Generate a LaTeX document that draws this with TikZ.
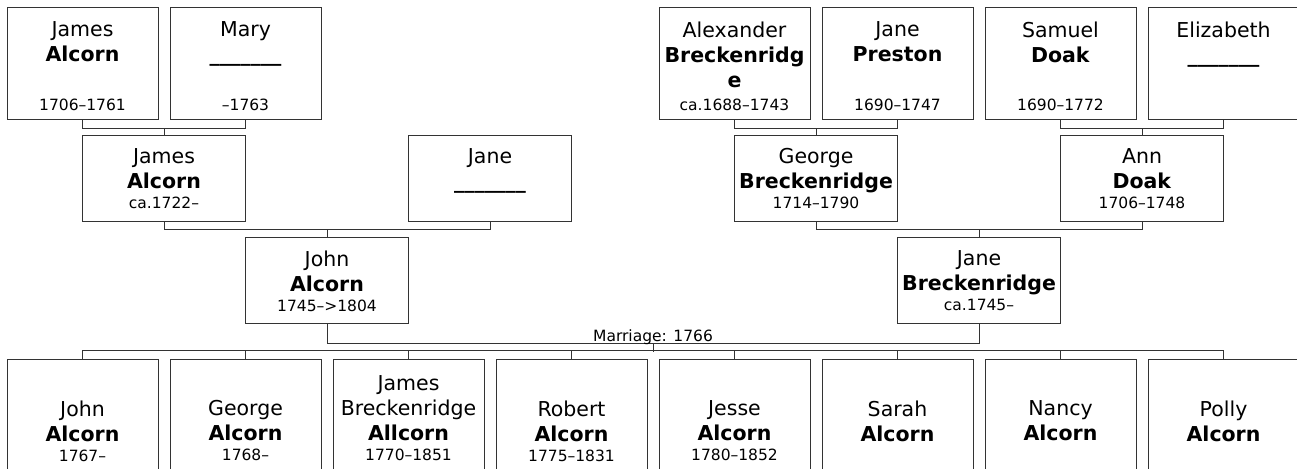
\documentclass[tikz,border=0pt]{standalone}
\usepackage{fontspec}
\setmainfont{DejaVu Sans}
\usetikzlibrary{calc}
\newcommand{\lifespan}[1]{{\fontsize{15.5}{20}\selectfont #1}}
\tikzset{ elder/.style = { rectangle % top row and children
        , draw = black!80
        , line width = 1pt
        , minimum width = 151pt
        , minimum height = 112pt
        , inner sep = 0pt
        }
        , parent/.style = { rectangle % middle rows
        , draw = black!80
        , line width = 1pt
        , minimum width = 163pt
        , minimum height = 86pt
        , inner sep = 0pt
        }
        , nm/.style = { align = center % names
        , anchor = north
        , inner sep = 0pt
        , font = \fontsize{20.5}{25}\selectfont
        }
        , dt/.style = { anchor = base % dates
        , inner sep = 0pt
        , font = \fontsize{15.5}{20}\selectfont
        }
        }

\begin{document}
\begin{tikzpicture}[x=1pt, y=-1pt,
        link/.style={draw=black!80, line width=1pt}]
        \useasboundingbox (0,0) rectangle (1297,468);
        \clip (0,0) rectangle (1297,468);

        \node [elder](jamesA) at (82.5,64) {};
        \node [nm](jamesA-n) at ([yshift=-14pt]jamesA.north) {James\\\textbf{Alcorn}};
        \node [dt](jamesA-d) at ([yshift=10pt]jamesA.south) {1706–1761};
        \node [elder](mary) at (245.5,64) {};
        \node [nm](mary-n) at ([yshift=-14pt]mary.north) {Mary\\\textbf{\_\_\_\_\_\_\_}};
        \node [dt](mary-d) at ([yshift=10pt]mary.south) {–1763};
        \node [elder](alex) at (734.5,64) {};
        \node [nm](alex-n) at ([yshift=-14pt]alex.north) {Alexander\\\textbf{Breckenridg}\\\textbf{e}};
        \node [dt](alex-d) at ([yshift=10pt]alex.south) {ca.1688–1743};
        \node [elder](janeP) at (897.5,64) {};
        \node [nm](janeP-n) at ([yshift=-14pt]janeP.north) {Jane\\\textbf{Preston}};
        \node [dt](janeP-d) at ([yshift=10pt]janeP.south) {1690–1747};
        \node [elder](samuel) at (1060.5,64) {};
        \node [nm](samuel-n) at ([yshift=-14pt]samuel.north) {Samuel\\\textbf{Doak}};
        \node [dt](samuel-d) at ([yshift=10pt]samuel.south) {1690–1772};
        \node [elder](eliz) at (1223.5,64) {};
        \node [nm](eliz-n) at ([yshift=-14pt]eliz.north) {Elizabeth\\\textbf{\_\_\_\_\_\_\_}};

        \node [parent](jamesB) at (164,178) {};
        \node [nm](jamesB-n) at ([yshift=-14pt]jamesB.north) {James\\\textbf{Alcorn}\\[-5pt]\lifespan{ca.1722–}};
        \node [parent](jane) at (490,178) {};
        \node [nm](jane-n) at ([yshift=-14pt]jane.north) {Jane\\\textbf{\_\_\_\_\_\_\_}};
        \node [parent](george) at (816,178) {};
        \node [nm](george-n) at ([yshift=-14pt]george.north) {George\\\textbf{Breckenridge}\\[-5pt]\lifespan{1714–1790}};
        \node [parent](ann) at (1142,178) {};
        \node [nm](ann-n) at ([yshift=-14pt]ann.north) {Ann\\\textbf{Doak}\\[-5pt]\lifespan{1706–1748}};

        \node [parent](john) at (327,280) {};
        \node [nm](john-n) at ([yshift=-14pt]john.north) {John\\\textbf{Alcorn}\\[-5pt]\lifespan{1745–>1804}};
        \node [parent](janeB) at (979,280) {};
        \node [nm](janeB-n) at ([yshift=-14pt]janeB.north) {Jane\\\textbf{Breckenridge}\\[-5pt]\lifespan{ca.1745–}};

        \node [elder](c1) at (82.5,415) {};
        \node [nm](c1-n) at ([yshift=-42pt]c1.north) {John\\\textbf{Alcorn}\\[-5pt]\lifespan{1767–}};
        \node [elder](c2) at (245.5,415) {};
        \node [nm](c2-n) at ([yshift=-42pt]c2.north) {George\\\textbf{Alcorn}\\[-5pt]\lifespan{1768–}};
        \node [elder](c3) at (408.5,415) {};
        \node [nm](c3-n) at ([yshift=-17pt]c3.north) {James\\Breckenridge\\\textbf{Allcorn}\\[-5pt]\lifespan{1770–1851}};
        \node [elder](c4) at (571.5,415) {};
        \node [nm](c4-n) at ([yshift=-42pt]c4.north) {Robert\\\textbf{Alcorn}\\[-5pt]\lifespan{1775–1831}};
        \node [elder](c5) at (734.5,415) {};
        \node [nm](c5-n) at ([yshift=-42pt]c5.north) {Jesse\\\textbf{Alcorn}\\[-5pt]\lifespan{1780–1852}};
        \node [elder](c6) at (897.5,415) {};
        \node [nm](c6-n) at ([yshift=-42pt]c6.north) {Sarah\\\textbf{Alcorn}};
        \node [elder](c7) at (1060.5,415) {};
        \node [nm](c7-n) at ([yshift=-42pt]c7.north) {Nancy\\\textbf{Alcorn}};
        \node [elder](c8) at (1223.5,415) {};
        \node [nm](c8-n) at ([yshift=-42pt]c8.north) {Polly\\\textbf{Alcorn}};

        % parents to child
        \draw [link] (jamesA.south) -- ++(0,8) -| (mary.south);
        \draw [link] (jamesB.north) -- ++(0,-7);
        \draw [link] (alex.south) -- ++(0,8) -| (janeP.south);
        \draw [link] (george.north) -- ++(0,-7);
        \draw [link] (samuel.south) -- ++(0,8) -| (eliz.south);
        \draw [link] (ann.north) -- ++(0,-7);
        \draw [link] (jamesB.south) -- ++(0,8) -| (jane.south);
        \draw [link] (john.north) -- ++(0,-8);
        \draw [link] (george.south) -- ++(0,8) -| (ann.south);
        \draw [link] (janeB.north) -- ++(0,-8);

        % marriage and children
        \draw [link] (john.south) -- ++(0,20) coordinate (m1) -| (janeB.south);
        \coordinate (wed) at ($(m1)!.5!(m1 -| janeB.south)$);
        \node [dt](wed-l) at ([yshift=2pt]wed) {Marriage: 1766};
        \draw [link] (wed) -- ++(0,8);
        \draw [link] (c1.north) -- ++(0,-8) -| (c8.north);
        \draw [link] (c2.north) -- ++(0,-8);
        \draw [link] (c3.north) -- ++(0,-8);
        \draw [link] (c4.north) -- ++(0,-8);
        \draw [link] (c5.north) -- ++(0,-8);
        \draw [link] (c6.north) -- ++(0,-8);
        \draw [link] (c7.north) -- ++(0,-8);
\end{tikzpicture}
\end{document}
